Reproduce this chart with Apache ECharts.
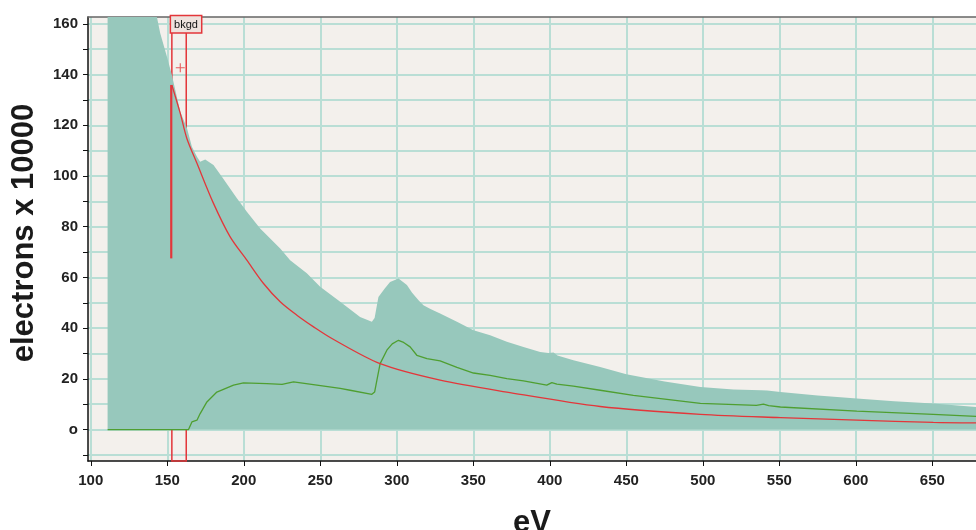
<!DOCTYPE html>
<html><head><meta charset="utf-8">
<script src="https://cdn.jsdelivr.net/npm/echarts@6/dist/echarts.min.js"></script>
<style>html,body{margin:0;padding:0;background:#fff}#c{width:976px;height:530px}</style>
</head><body><div id="c"></div>
<script>
// Total spectrum (filled area)
const spectrumEV = [111,125,140,143.2,145.4,149.8,153,158.5,162.9,166.1,167.2,169.5,171.5,174.8,180.2,185.7,195.5,202,210.7,223.8,230.3,241.2,249.9,263,276,283.7,285.5,287,288,289.1,292,295.6,301.1,306.6,310,314.2,317.4,322,328.3,339.3,350.1,361,371.9,382.8,393.7,399,402.4,405,415.4,432.9,450,475,498.4,520,538,542,550.7,575,600.6,625,650.6,678.5];
const spectrumCounts = [185,185,175,162.8,156.3,147,139.8,125.3,118.8,111.5,111,107.5,105.6,106.5,104.3,99.7,91.2,85.9,79.3,71.4,66.8,61.6,56.3,50.4,44.4,42.5,44,49,52.3,53,55.5,58.2,59.6,57,54,51,49,47.5,45.8,42.5,39.2,37.2,34.6,32.6,30.6,30.2,30.4,29.2,27.3,24.7,21.8,19,16.8,15.8,15.5,15.4,14.8,13.4,12.2,11.2,10.3,8.9];
// Background-subtracted edge signal (green)
const edgeEV = [111,163.9,166.1,169.4,171.5,175.9,182.4,193.3,199.8,215.1,225,232.5,247.8,263,269.5,283.7,285.5,287,289.1,293.5,297,301.1,304,308.7,313.1,319.7,328.3,339.3,350.1,361,371.9,382.8,398,401.3,404.6,415.4,432.9,454.6,498.4,535,539.6,543,550.7,600.6,650.6,678.5];
const edgeCounts = [0,0,3,3.7,6.3,10.9,14.8,17.5,18.4,18.1,17.8,18.8,17.5,16.2,15.5,13.9,14.8,19.5,26,31.3,33.8,35.2,34.5,32.6,29.3,28,27.1,24.5,22.3,21.4,20.1,19.2,17.5,18.5,17.9,17.1,15.5,13.5,10.3,9.5,10,9.4,8.9,7.3,6,5.2];
// Background fit (red)
const bkgdEV = [153,158.5,162.8,169.4,180.2,191.1,202,212.9,223.8,234.7,245.6,257.6,289.1,328.3,371.9,432.9,498.4,550.7,600.6,650.6,678.5];
const bkgdCounts = [135.9,124.7,114.8,105,89.2,76,66.8,57.6,50.4,45.1,40.5,35.9,26,19.5,14.8,9.1,6.0,4.7,3.7,2.8,2.6];
// Fit start marker
const fitStartEV = [152.6,152.6];
const fitStartCounts = [135.9,67.5];
// Background window
const windowStartEV = 153;
const windowEndEV = 162.4;
const windowLabel = 'bkgd';
const crossEV = [158.5];
const crossCounts = [142.7];
// Axes
const xMin = 98.2, xMax = 678.5;
const yMin = -12.4, yMax = 162.7;
const xTickValues = [100,150,200,250,300,350,400,450,500,550,600,650];
const xTickLabels = ['100','150','200','250','300','350','400','450','500','550','600','650'];
const yTickValues = [-10,0,10,20,30,40,50,60,70,80,90,100,110,120,130,140,150,160];
const yLabelValues = [0,20,40,60,80,100,120,140,160];
const yTickLabels = ['o','20','40','60','80','100','120','140','160'];

const zip = (a, b) => a.map((v, i) => [v, b[i]]);
const FONT = '"Liberation Sans", Arial, sans-serif';

const chart = echarts.init(document.getElementById('c'), null, {renderer: 'canvas'});
chart.setOption({
  animation: false,
  backgroundColor: '#ffffff',
  grid: {left: 88, right: 0, top: 17, bottom: 69, containLabel: false, outerBoundsMode: 'none',
         show: true, backgroundColor: '#f3f0ec', borderWidth: 0},
  xAxis: [{
    type: 'value', min: xMin, max: xMax, splitNumber: 12,
    name: 'eV', nameLocation: 'middle', nameGap: 47,
    nameTextStyle: {fontFamily: FONT, fontWeight: 'bold', fontSize: 31, color: '#1a1a1a'},
    axisLine: {onZero: false, lineStyle: {color: '#111', width: 1.5}},
    axisTick: {show: true, length: 5, customValues: xTickValues, lineStyle: {color: '#111', width: 1}},
    axisLabel: {customValues: xTickValues, margin: 12, fontFamily: FONT, fontWeight: 'bold', fontSize: 15, color: '#222',
      formatter: v => { const i = xTickValues.indexOf(v); return i >= 0 ? xTickLabels[i] : ''; }},
    splitLine: {show: true, lineStyle: {color: '#b9ded5', width: 2}}
  }, {
    type: 'value', position: 'top', min: xMin, max: xMax,
    axisLine: {show: true, onZero: false, lineStyle: {color: '#666', width: 1.5}},
    axisTick: {show: false}, axisLabel: {show: false}, splitLine: {show: false}
  }],
  yAxis: {
    type: 'value', min: yMin, max: yMax, splitNumber: 17,
    name: 'electrons x 10000', nameLocation: 'middle', nameGap: 48,
    nameTextStyle: {fontFamily: FONT, fontWeight: 'bold', fontSize: 31, color: '#1a1a1a', padding: [0, 0, 0, 12]},
    axisLine: {show: true, onZero: false, lineStyle: {color: '#111', width: 1.5}},
    axisTick: {show: true, length: 5, customValues: yTickValues, lineStyle: {color: '#111', width: 1}},
    axisLabel: {customValues: yLabelValues, margin: 10, fontFamily: FONT, fontWeight: 'bold', fontSize: 15, color: '#222',
      formatter: v => { const i = yLabelValues.indexOf(v); return i >= 0 ? yTickLabels[i] : ''; }},
    splitLine: {show: true, lineStyle: {color: '#b9ded5', width: 2}}
  },
  series: [
    {type: 'line', name: 'spectrum', data: zip(spectrumEV, spectrumCounts), symbol: 'none', z: 1,
     lineStyle: {width: 0, color: '#97c8bc'}, itemStyle: {color: '#97c8bc'},
     areaStyle: {color: '#97c8bc', opacity: 1}},
    {type: 'line', name: 'edge', data: zip(edgeEV, edgeCounts), symbol: 'none', z: 3,
     lineStyle: {width: 1.3, color: '#4f9f31'}, itemStyle: {color: '#4f9f31'}},
    {type: 'line', name: 'background', data: zip(bkgdEV, bkgdCounts), symbol: 'none', z: 4, smooth: 0.3,
     lineStyle: {width: 1.3, color: '#e3363a'}, itemStyle: {color: '#e3363a'}},
    {type: 'line', name: 'fitstart', data: zip(fitStartEV, fitStartCounts), symbol: 'none', z: 5,
     lineStyle: {width: 2.2, color: '#e3363a'}, itemStyle: {color: '#e3363a'},
     markArea: {silent: true,
       itemStyle: {color: 'rgba(0,0,0,0)', borderColor: '#e3363a', borderWidth: 1.5},
       label: {show: true, position: 'insideTopLeft', distance: 0, formatter: windowLabel,
         fontFamily: FONT, fontSize: 11, color: '#111', backgroundColor: '#eee2dd',
         borderColor: '#e3363a', borderWidth: 1.5, padding: [3, 3, 2, 3]},
       data: [[{xAxis: windowStartEV}, {xAxis: windowEndEV}]]}},
    {type: 'scatter', name: 'cross', data: zip(crossEV, crossCounts), z: 6,
     symbol: 'path://M4.4,0h1.2v10h-1.2z M0,4.4h10v1.2h-10z', symbolSize: 9,
     itemStyle: {color: '#e3363a'}}
  ]
});
</script></body></html>
